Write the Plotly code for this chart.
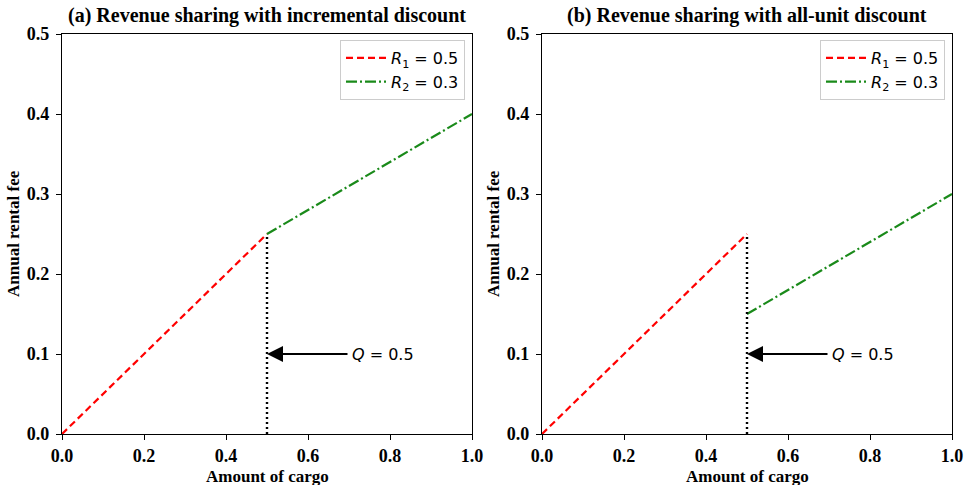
import plotly.graph_objects as go

# Data
q_break = 0.5
r1 = 0.5
r2 = 0.3
x_seg1 = [0.0, 0.5]
fee_seg1 = [0.0, 0.25]
x_seg2 = [0.5, 1.0]
fee_inc_seg2 = [0.25, 0.4]
fee_all_seg2 = [0.15, 0.3]
vline_y = [0.0, 0.25]
arrow_y = 0.1
arrow_tail_x = 0.7
ticks = [0.0, 0.2, 0.4, 0.6, 0.8, 1.0]
yticks = [0.0, 0.1, 0.2, 0.3, 0.4, 0.5]
tick_labels = ["0.0", "0.2", "0.4", "0.6", "0.8", "1.0"]
ytick_labels = ["0.0", "0.1", "0.2", "0.3", "0.4", "0.5"]
titles = ["(a) Revenue sharing with incremental discount", "(b) Revenue sharing with all-unit discount"]
seg2_values = [fee_inc_seg2, fee_all_seg2]

RED = "#ff0000"
GREEN = "#1a8a1a"
serif = "Liberation Serif"
sans = "DejaVu Sans"

W, H = 966, 485
fig = go.Figure()
domains = [[62/W, 472/W], [542/W, 952/W]]
ydom = [1 - 434/H, 1 - 34/H]

for i in range(2):
    xa = "x" if i == 0 else "x2"
    ya = "y" if i == 0 else "y2"
    leg = "legend" if i == 0 else "legend2"
    fig.add_trace(go.Scatter(x=x_seg1, y=fee_seg1, mode="lines", xaxis=xa, yaxis=ya,
                             line=dict(color=RED, dash="7px,4px", width=2.2),
                             name="<i>R</i><sub>1</sub> = 0.5", legend=leg))
    fig.add_trace(go.Scatter(x=x_seg2, y=seg2_values[i], mode="lines", xaxis=xa, yaxis=ya,
                             line=dict(color=GREEN, dash="11px,3px,2px,3px", width=2.2),
                             name="<i>R</i><sub>2</sub> = 0.3", legend=leg))
    fig.add_trace(go.Scatter(x=[q_break, q_break], y=vline_y, mode="lines", xaxis=xa, yaxis=ya,
                             line=dict(color="black", dash="2px,3px", width=2.4),
                             showlegend=False))
    axis_common = dict(showline=True, linecolor="black", linewidth=1.3, mirror=True,
                       ticks="outside", ticklen=5, tickcolor="black", tickwidth=1.2,
                       showgrid=False, zeroline=False, automargin=False,
                       tickfont=dict(family=serif, size=18, color="black", weight="bold"))
    xkey = "xaxis" if i == 0 else "xaxis2"
    ykey = "yaxis" if i == 0 else "yaxis2"
    fig.update_layout(**{
        xkey: dict(domain=domains[i], range=[0, 1], tickvals=ticks, ticktext=tick_labels,
                   anchor=ya, ticklabelstandoff=0, **axis_common),
        ykey: dict(domain=ydom, range=[0, 0.5], tickvals=yticks, ticktext=ytick_labels,
                   anchor=xa, ticklabelstandoff=3, **axis_common),
    })
    # axis titles
    cx = (domains[i][0] + domains[i][1]) / 2
    fig.add_annotation(x=cx, y=1 - 476/H, xref="paper", yref="paper", text="<b>Amount of cargo</b>",
                       showarrow=False, xanchor="center", yanchor="middle",
                       font=dict(family=serif, size=17, color="black"))
    fig.add_annotation(x=(domains[i][0] * W - 49) / W, y=(ydom[0] + ydom[1]) / 2, xref="paper", yref="paper",
                       text="<b>Annual rental fee</b>", textangle=-90,
                       showarrow=False, xanchor="center", yanchor="middle",
                       font=dict(family=serif, size=17, color="black"))
    # arrow
    fig.add_annotation(x=q_break, y=arrow_y, ax=arrow_tail_x, ay=arrow_y, xref=xa, yref=ya,
                       axref=xa, ayref=ya, text="", showarrow=True, arrowhead=2,
                       arrowsize=1.6, arrowwidth=2, arrowcolor="black", standoff=0)
    fig.add_annotation(x=arrow_tail_x, y=arrow_y, xref=xa, yref=ya, text="<i>Q</i> = 0.5",
                       showarrow=False, xanchor="left", yanchor="middle", xshift=1,
                       font=dict(family=sans, size=16, color="black"))
    # title
    fig.add_annotation(x=cx, y=1 - 16/H, xref="paper", yref="paper", text="<b>" + titles[i] + "</b>",
                       showarrow=False, xanchor="center", yanchor="middle",
                       font=dict(family=serif, size=20, color="black"))

legend_common = dict(xanchor="right", yanchor="top", bgcolor="rgba(255,255,255,0.8)",
                     bordercolor="#cccccc", borderwidth=1,
                     font=dict(family=sans, size=16, color="black"), tracegroupgap=0,
                     itemwidth=40)
fig.update_layout(
    width=W, height=H,
    margin=dict(l=0, r=0, t=0, b=0),
    plot_bgcolor="white", paper_bgcolor="white",
    legend=dict(x=domains[0][1] - 7/W, y=ydom[1] - 6/H, **legend_common),
    legend2=dict(x=domains[1][1] - 7/W, y=ydom[1] - 6/H, **legend_common),
)

fig.write_html("out.html")
